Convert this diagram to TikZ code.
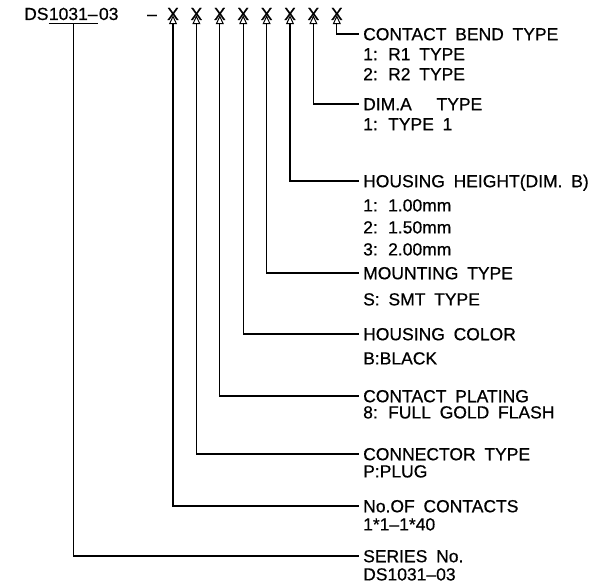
\documentclass[tikz,border=0pt]{standalone}
\usepackage{fontspec}
\setmainfont{Liberation Sans}[WordSpace=1.8, FakeBold=0.6]
\usetikzlibrary{arrows.meta,positioning}

\tikzset{
	code/.style={font=\fontsize{17.5}{20}\selectfont, inner sep=0pt, text height=12.5pt, text depth=0pt},
	head/.style={font=\fontsize{17.5}{20}\selectfont, anchor=west, inner xsep=4pt, inner ysep=0pt, text height=12.5pt, text depth=0pt},
	opts/.style={font=\fontsize{17.5}{#1}\selectfont, anchor=north west, inner sep=0pt, align=left},
	opts/.default=20,
	lead/.style={line width=1.2pt},
	arrowlead/.style={{Triangle[open, length=9pt, width=8pt, line width=1pt]}-},
}

\begin{document}
\begin{tikzpicture}[x=1pt, y=-1pt]
	\useasboundingbox (0,0) rectangle (596,585);
	% part number
	\node[code, anchor=base west] (ds) at (24,20) {DS};
	\node[code, anchor=base west, inner ysep=3pt] (num) at (ds.base east) {1031\textendash};
	\node[code, anchor=base west] (rev) at ([xshift=1pt]num.base east) {03};
	\node[code, anchor=base] (dash) at (152,20) {\textendash};
	\foreach \i in {1,...,8}
		\node[code, anchor=base] (x\i) at ({173+23.4*(\i-1)},20) {X};
	\draw[lead] (num.south west) -- (num.south east);

	% headings
	\node[head] (hbend) at (359,34) {CONTACT BEND TYPE};
	\node[head] (hdima) at (359,104) {DIM.A\hspace{16pt} TYPE};
	\node[head] (hheight) at (359,181) {HOUSING HEIGHT(DIM. B)};
	\node[head] (hmount) at (359,273) {MOUNTING TYPE};
	\node[head] (hcolor) at (359,334) {HOUSING COLOR};
	\node[head] (hplat) at (359,396) {CONTACT PLATING};
	\node[head] (hconn) at (359,454) {CONNECTOR TYPE};
	\node[head] (hcont) at (359,506) {No.OF CONTACTS};
	\node[head] (hser) at (359,556) {SERIES No.};

	% options
	\node[opts] (obend) at (363,48) {1: R1 TYPE\\2: R2 TYPE};
	\node[opts] (odima) at (363,118) {1: TYPE 1};
	\node[opts=22] (oheight) at (363,199) {1: 1.00mm\\2: 1.50mm\\3: 2.00mm};
	\node[opts] (omount) at (363,293) {S: SMT TYPE};
	\node[opts] (ocolor) at (363,352) {B:BLACK};
	\node[opts] (oplat) at (363,406) {8: FULL GOLD FLASH};
	\node[opts] (oconn) at (363,465) {P:PLUG};
	\node[opts] (ocont) at (363,518) {1*1\textendash1*40};
	\node[opts] (oser) at (363,568) {DS1031\textendash03};

	% leaders
	\draw[lead, arrowlead] ([yshift=5pt]x8.south) |- (hbend.west);
	\draw[lead, arrowlead] ([yshift=5pt]x7.south) |- (hdima.west);
	\draw[lead, arrowlead] ([yshift=5pt]x6.south) |- (hheight.west);
	\draw[lead, arrowlead] ([yshift=5pt]x5.south) |- (hmount.west);
	\draw[lead, arrowlead] ([yshift=5pt]x4.south) |- (hcolor.west);
	\draw[lead, arrowlead] ([yshift=5pt]x3.south) |- (hplat.west);
	\draw[lead, arrowlead] ([yshift=5pt]x2.south) |- (hconn.west);
	\draw[lead, arrowlead] ([yshift=5pt]x1.south) |- (hcont.west);
	\draw[lead] (num.south) |- (hser.west);
\end{tikzpicture}
\end{document}
